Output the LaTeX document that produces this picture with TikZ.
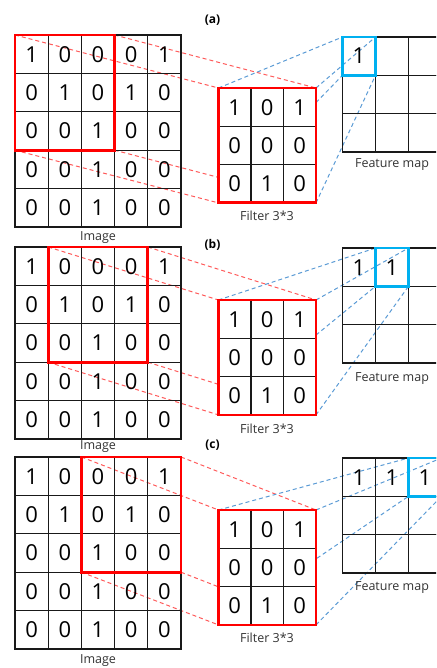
\documentclass[tikz,border=0pt]{standalone}
\usepackage{fontspec}
\setmainfont{Open Sans}
\definecolor{boxred}{RGB}{255,0,0}
\definecolor{dashred}{RGB}{255,90,90}
\definecolor{boxblue}{RGB}{0,176,240}
\definecolor{dashblue}{RGB}{91,155,213}
\pgfdeclarelayer{bg}
\pgfsetlayers{bg,main}
\tikzset{
  imgcell/.style={draw=black!90, line width=1.3pt, inner sep=0pt, outer sep=0pt,
    minimum width=33.2pt, minimum height=38.4pt, anchor=north west,
    font=\fontsize{22}{22}\selectfont},
  filtcell/.style={imgcell, fill=white, minimum width=32.5pt, minimum height=38.3pt},
  fmcell/.style={imgcell, minimum width=33pt, minimum height=38.3pt},
  redframe/.style={draw=boxred, line width=2.8pt, inner sep=0pt, outer sep=0pt, anchor=north west},
  blueframe/.style={draw=boxblue, line width=2.8pt, inner sep=0pt, outer sep=0pt, anchor=north west,
    minimum width=33pt, minimum height=38.3pt},
  reddash/.style={draw=dashred, line width=1pt, dash pattern=on 4pt off 3pt},
  bluedash/.style={draw=dashblue, line width=1pt, dash pattern=on 4pt off 3pt},
  lab/.style={font=\fontsize{12.5}{12.5}\selectfont, text=black!80, inner sep=0pt, anchor=base},
  plab/.style={font=\fontsize{12}{12}\selectfont\bfseries, inner sep=0pt}
}
\begin{document}
\begin{tikzpicture}[x=1pt,y=-1pt]
\clip (0,0) rectangle (436,668);
\foreach \p/\yi/\yf/\ym/\rc/\nv/\ly/\fy/\my/\py in
  {a/35/88/37/0/1/240/220/167.5/20, b/247/300/248/1/2/449/433/381.5/245, c/457/510/458/2/3/663/642/590.5/445}{
  % panel label
  \node[plab] (\p-lab) at (212.5,\py) {(\p)};
  % image grid
  \foreach \r/\row in {0/{1,0,0,0,1},1/{0,1,0,1,0},2/{0,0,1,0,0},3/{0,0,1,0,0},4/{0,0,1,0,0}}{
    \foreach \v [count=\c from 0] in \row {
      \node[imgcell] (\p-img-\r-\c) at ({15+\c*33.2},{\yi+\r*38.4}) {\v};
    }
  }
  \node[lab] (\p-imglab) at (98,\ly) {Image};
  % red window on image
  \node[redframe, minimum width=99.6pt, minimum height=115.2pt] (\p-red) at ({15+\rc*33.2},\yi) {};
  % filter
  \foreach \r/\row in {0/{1,0,1},1/{0,0,0},2/{0,1,0}}{
    \foreach \v [count=\c from 0] in \row {
      \node[filtcell] (\p-f-\r-\c) at ({218.5+\c*32.5},{\yf+\r*38.3}) {\v};
    }
  }
  \node[redframe, minimum width=97.5pt, minimum height=114.9pt] (\p-filt) at (218.5,\yf) {};
  \node[lab] (\p-filtlab) at (267,\fy) {Filter 3*3};
  % feature map
  \foreach \r in {0,1,2}{
    \foreach \c in {0,1,2}{
      \pgfmathsetmacro{\val}{(\r==0 && \c<\nv) ? 1 : 0}
      \ifnum\val=1
        \node[fmcell] (\p-m-\r-\c) at ({342.5+\c*33},{\ym+\r*38.3}) {1};
      \else
        \node[fmcell] (\p-m-\r-\c) at ({342.5+\c*33},{\ym+\r*38.3}) {};
      \fi
    }
  }
  \node[blueframe] (\p-blue) at ({342.5+(\nv-1)*33},\ym) {};
  \node[lab] (\p-fmlab) at (392,\my) {Feature map};
  % connectors
  \begin{pgfonlayer}{bg}
    \draw[reddash] (\p-red.north west) -- (\p-filt.north west);
    \draw[reddash] (\p-red.north east) -- (\p-filt.north east);
    \draw[reddash] (\p-red.south west) -- (\p-filt.south west);
    \draw[reddash] (\p-red.south east) -- (\p-filt.south east);
    \draw[bluedash] (\p-filt.north west) -- (\p-blue.north west);
    \draw[bluedash] (\p-filt.north east) -- (\p-blue.north east);
    \draw[bluedash] (\p-filt.south west) -- (\p-blue.south west);
    \draw[bluedash] (\p-filt.south east) -- (\p-blue.south east);
  \end{pgfonlayer}
}
\end{tikzpicture}
\end{document}
